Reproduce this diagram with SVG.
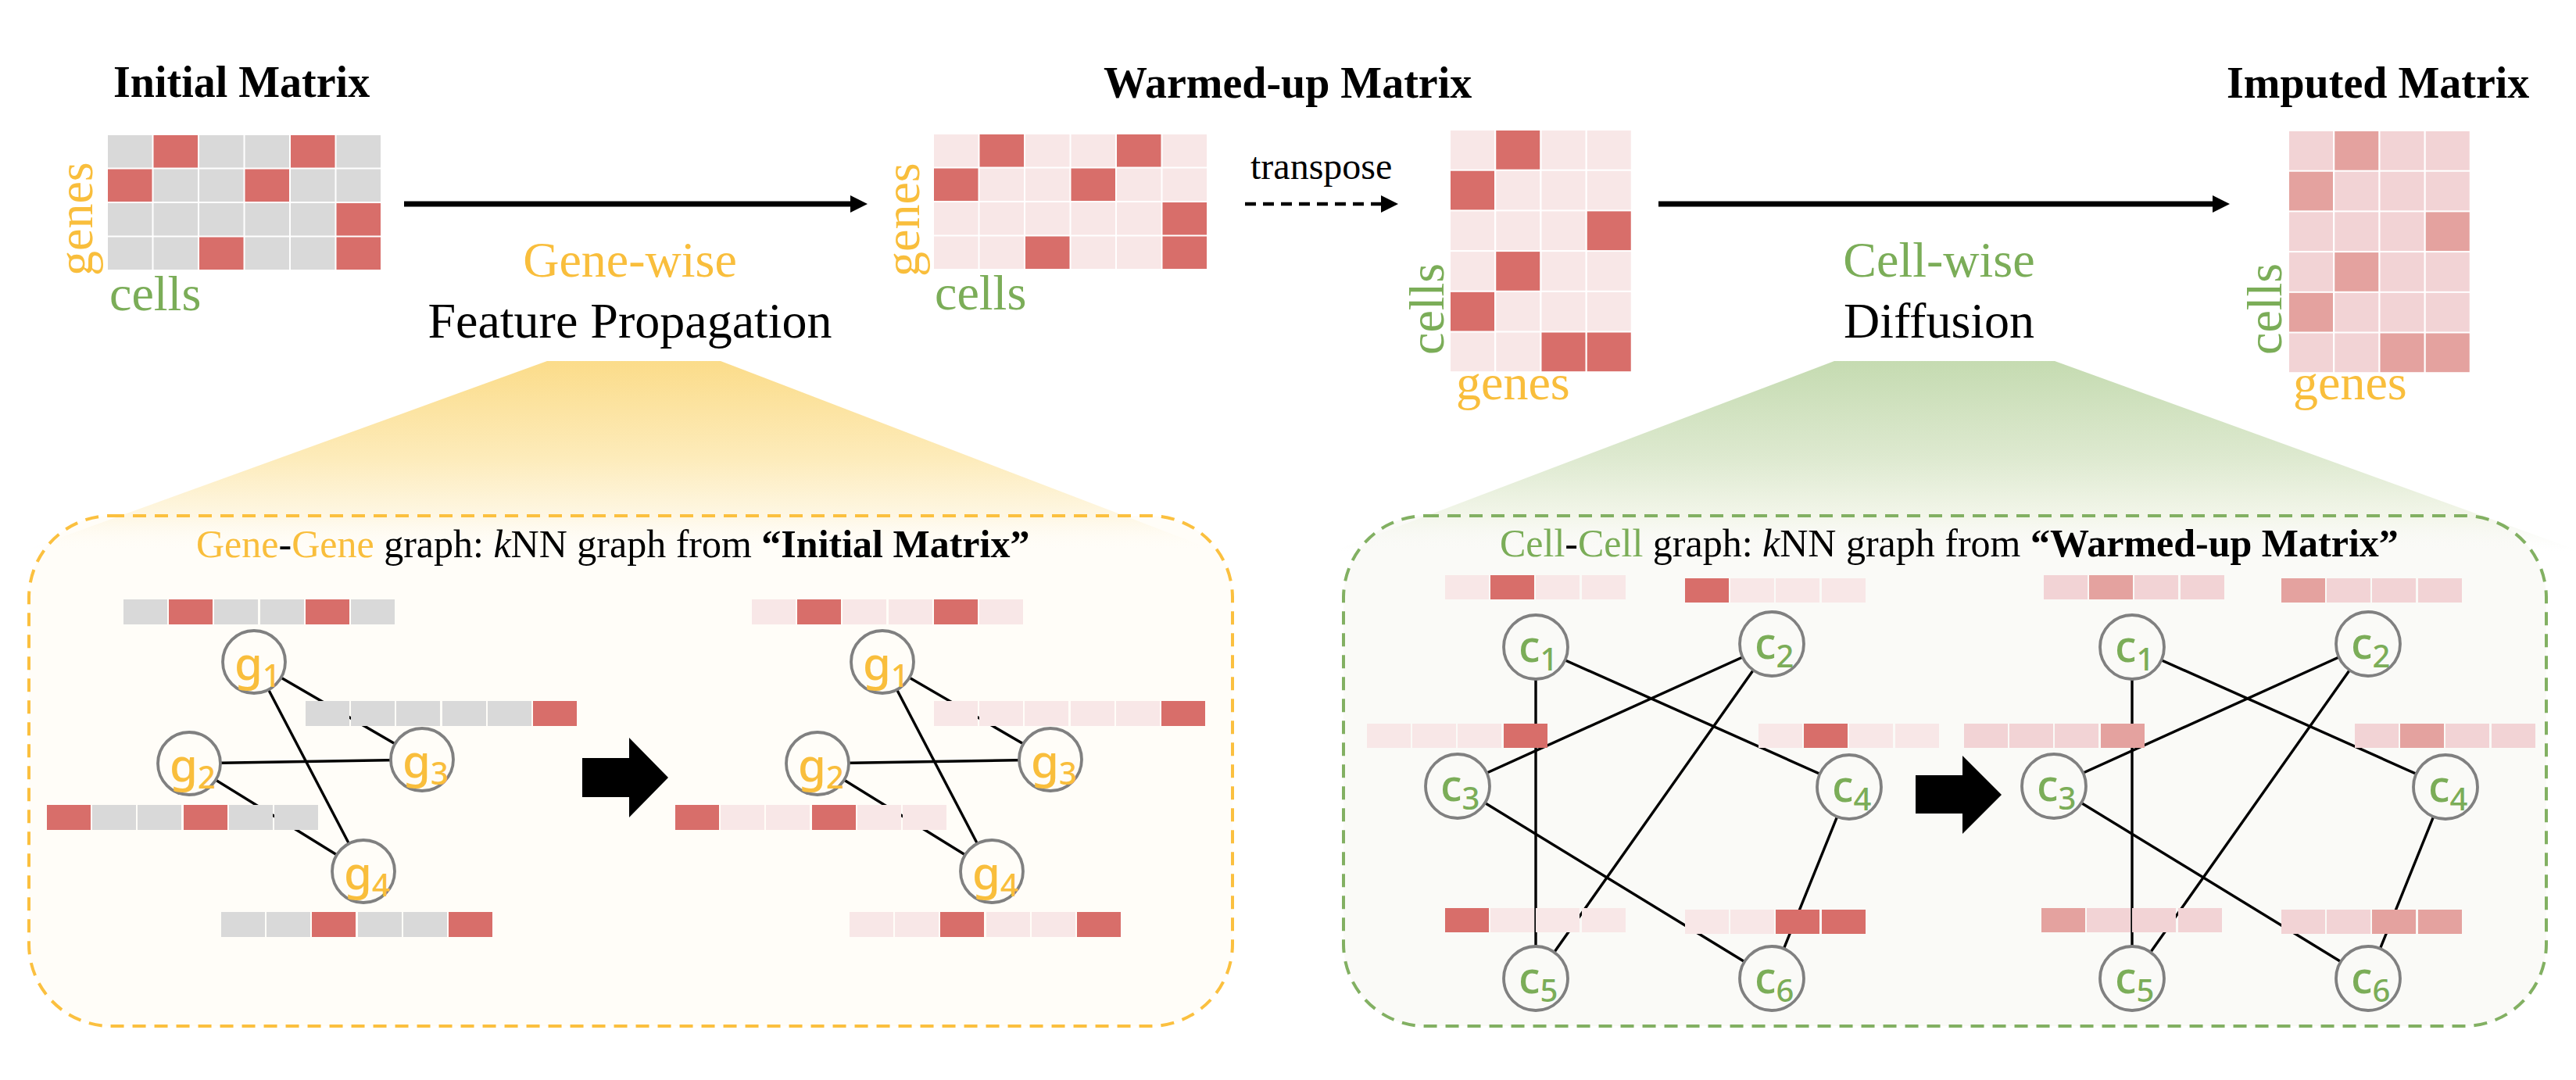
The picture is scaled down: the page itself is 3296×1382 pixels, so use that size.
<svg xmlns="http://www.w3.org/2000/svg" width="3296" height="1382" viewBox="0 0 3296 1382">
<style>
.serif{font-family:"Liberation Serif","Times New Roman",serif}
.ttl{font-family:"Liberation Serif","Times New Roman",serif;font-weight:bold;font-size:56px;fill:#000}
.big{font-family:"Liberation Serif","Times New Roman",serif;font-size:64px}
.ax{font-family:"Liberation Serif","Times New Roman",serif;font-size:64px}
.yl{fill:#F9BE3C}
.gn{fill:#7BAD58}
.gr{fill:#D9D9D9}
.rd{fill:#D86E6A}
.lt{fill:#F8E7E7}
.il{fill:#F2D3D5}
.id{fill:#E4A29F}
.edge{stroke:#000;stroke-width:3.4;fill:none}
.node{stroke:#808080;stroke-width:3.8}
.glab{font-family:"Noto Sans","Open Sans",sans-serif;font-weight:500;font-size:58px;fill:#F9BE3C}
.clab{font-family:"Noto Sans","Open Sans",sans-serif;font-weight:500;font-size:56px;fill:#7BAD58}
.sub{font-size:40px}
.btitle{font-family:"Liberation Serif","Times New Roman",serif;font-size:50px;fill:#000}
</style>
<defs>
<linearGradient id="ygrad" gradientUnits="userSpaceOnUse" x1="0" y1="462" x2="0" y2="705">
<stop offset="0" stop-color="#FBDC8A"/>
<stop offset="0.5" stop-color="#FDEBB9"/>
<stop offset="0.82" stop-color="#FEF7E4"/>
<stop offset="1" stop-color="#FFFDF8" stop-opacity="0"/>
</linearGradient>
<linearGradient id="ggrad" gradientUnits="userSpaceOnUse" x1="0" y1="462" x2="0" y2="705">
<stop offset="0" stop-color="#C5DBB1"/>
<stop offset="0.5" stop-color="#DDE9CF"/>
<stop offset="0.82" stop-color="#F3F6EA"/>
<stop offset="1" stop-color="#FAFAF7" stop-opacity="0"/>
</linearGradient>
<marker id="ah" markerWidth="22" markerHeight="22" viewBox="0 0 22 22" refX="0" refY="11" orient="auto" markerUnits="userSpaceOnUse">
<path d="M0,0 L22,11 L0,22 Z" fill="#000"/>
</marker>
</defs>

<!-- panel backgrounds -->
<g id="gene-panel-bg">
<rect x="37" y="660" width="1540" height="653" rx="105" ry="105" fill="#FFFDF8"/>
<polygon points="700,462 922,462 1556,705 30,705" fill="url(#ygrad)"/>
<rect x="37" y="660" width="1540" height="653" rx="105" ry="105" fill="none" stroke="#FBC03F" stroke-width="4" stroke-dasharray="17 11"/>
</g>
<g id="cell-panel-bg">
<rect x="1719" y="660" width="1539" height="653" rx="105" ry="105" fill="#FAFAF7"/>
<polygon points="2347,462 2629,462 3300,705 1707,705" fill="url(#ggrad)"/>
<rect x="1719" y="660" width="1539" height="653" rx="105" ry="105" fill="none" stroke="#82B062" stroke-width="4" stroke-dasharray="17 11"/>
</g>

<!-- top titles -->
<text class="ttl" x="145" y="124">Initial Matrix</text>
<text class="ttl" x="1412" y="125">Warmed-up Matrix</text>
<text class="ttl" x="2849" y="125">Imputed Matrix</text>

<!-- Initial matrix -->
<g id="initial-matrix" transform="translate(138,173)">
<rect class="gr" x="0" y="0" width="56.5" height="41.5"/><rect class="rd" x="58.5" y="0" width="56.5" height="41.5"/><rect class="gr" x="117" y="0" width="56.5" height="41.5"/><rect class="gr" x="175.5" y="0" width="56.5" height="41.5"/><rect class="rd" x="234" y="0" width="56.5" height="41.5"/><rect class="gr" x="292.5" y="0" width="56.5" height="41.5"/>
<rect class="rd" x="0" y="43.5" width="56.5" height="41.5"/><rect class="gr" x="58.5" y="43.5" width="56.5" height="41.5"/><rect class="gr" x="117" y="43.5" width="56.5" height="41.5"/><rect class="rd" x="175.5" y="43.5" width="56.5" height="41.5"/><rect class="gr" x="234" y="43.5" width="56.5" height="41.5"/><rect class="gr" x="292.5" y="43.5" width="56.5" height="41.5"/>
<rect class="gr" x="0" y="87" width="56.5" height="41.5"/><rect class="gr" x="58.5" y="87" width="56.5" height="41.5"/><rect class="gr" x="117" y="87" width="56.5" height="41.5"/><rect class="gr" x="175.5" y="87" width="56.5" height="41.5"/><rect class="gr" x="234" y="87" width="56.5" height="41.5"/><rect class="rd" x="292.5" y="87" width="56.5" height="41.5"/>
<rect class="gr" x="0" y="130.5" width="56.5" height="41.5"/><rect class="gr" x="58.5" y="130.5" width="56.5" height="41.5"/><rect class="rd" x="117" y="130.5" width="56.5" height="41.5"/><rect class="gr" x="175.5" y="130.5" width="56.5" height="41.5"/><rect class="gr" x="234" y="130.5" width="56.5" height="41.5"/><rect class="rd" x="292.5" y="130.5" width="56.5" height="41.5"/>
</g>
<text class="ax yl" transform="translate(118,353) rotate(-90)">genes</text>
<text class="ax gn" x="140" y="397">cells</text>

<!-- Warmed-up matrix -->
<g id="warmed-matrix" transform="translate(1195,172)">
<rect class="lt" x="0" y="0" width="56.5" height="41.5"/><rect class="rd" x="58.5" y="0" width="56.5" height="41.5"/><rect class="lt" x="117" y="0" width="56.5" height="41.5"/><rect class="lt" x="175.5" y="0" width="56.5" height="41.5"/><rect class="rd" x="234" y="0" width="56.5" height="41.5"/><rect class="lt" x="292.5" y="0" width="56.5" height="41.5"/>
<rect class="rd" x="0" y="43.5" width="56.5" height="41.5"/><rect class="lt" x="58.5" y="43.5" width="56.5" height="41.5"/><rect class="lt" x="117" y="43.5" width="56.5" height="41.5"/><rect class="rd" x="175.5" y="43.5" width="56.5" height="41.5"/><rect class="lt" x="234" y="43.5" width="56.5" height="41.5"/><rect class="lt" x="292.5" y="43.5" width="56.5" height="41.5"/>
<rect class="lt" x="0" y="87" width="56.5" height="41.5"/><rect class="lt" x="58.5" y="87" width="56.5" height="41.5"/><rect class="lt" x="117" y="87" width="56.5" height="41.5"/><rect class="lt" x="175.5" y="87" width="56.5" height="41.5"/><rect class="lt" x="234" y="87" width="56.5" height="41.5"/><rect class="rd" x="292.5" y="87" width="56.5" height="41.5"/>
<rect class="lt" x="0" y="130.5" width="56.5" height="41.5"/><rect class="lt" x="58.5" y="130.5" width="56.5" height="41.5"/><rect class="rd" x="117" y="130.5" width="56.5" height="41.5"/><rect class="lt" x="175.5" y="130.5" width="56.5" height="41.5"/><rect class="lt" x="234" y="130.5" width="56.5" height="41.5"/><rect class="rd" x="292.5" y="130.5" width="56.5" height="41.5"/>
</g>
<text class="ax yl" transform="translate(1176,354) rotate(-90)">genes</text>
<text class="ax gn" x="1196" y="396">cells</text>

<!-- Transposed warmed-up matrix -->
<g id="transposed-matrix" transform="translate(1856,167)">
<rect class="lt" x="0" y="0" width="56" height="49.7"/><rect class="rd" x="58.25" y="0" width="56" height="49.7"/><rect class="lt" x="116.5" y="0" width="56" height="49.7"/><rect class="lt" x="174.75" y="0" width="56" height="49.7"/>
<rect class="rd" x="0" y="51.7" width="56" height="49.7"/><rect class="lt" x="58.25" y="51.7" width="56" height="49.7"/><rect class="lt" x="116.5" y="51.7" width="56" height="49.7"/><rect class="lt" x="174.75" y="51.7" width="56" height="49.7"/>
<rect class="lt" x="0" y="103.4" width="56" height="49.7"/><rect class="lt" x="58.25" y="103.4" width="56" height="49.7"/><rect class="lt" x="116.5" y="103.4" width="56" height="49.7"/><rect class="rd" x="174.75" y="103.4" width="56" height="49.7"/>
<rect class="lt" x="0" y="155.1" width="56" height="49.7"/><rect class="rd" x="58.25" y="155.1" width="56" height="49.7"/><rect class="lt" x="116.5" y="155.1" width="56" height="49.7"/><rect class="lt" x="174.75" y="155.1" width="56" height="49.7"/>
<rect class="rd" x="0" y="206.8" width="56" height="49.7"/><rect class="lt" x="58.25" y="206.8" width="56" height="49.7"/><rect class="lt" x="116.5" y="206.8" width="56" height="49.7"/><rect class="lt" x="174.75" y="206.8" width="56" height="49.7"/>
<rect class="lt" x="0" y="258.5" width="56" height="49.7"/><rect class="lt" x="58.25" y="258.5" width="56" height="49.7"/><rect class="rd" x="116.5" y="258.5" width="56" height="49.7"/><rect class="rd" x="174.75" y="258.5" width="56" height="49.7"/>
</g>
<text class="ax gn" transform="translate(1847,454) rotate(-90)">cells</text>
<text class="ax yl" x="1863" y="511">genes</text>

<!-- Imputed matrix -->
<g id="imputed-matrix" transform="translate(2929,168)">
<rect class="il" x="0" y="0" width="56" height="49.7"/><rect class="id" x="58.25" y="0" width="56" height="49.7"/><rect class="il" x="116.5" y="0" width="56" height="49.7"/><rect class="il" x="174.75" y="0" width="56" height="49.7"/>
<rect class="id" x="0" y="51.7" width="56" height="49.7"/><rect class="il" x="58.25" y="51.7" width="56" height="49.7"/><rect class="il" x="116.5" y="51.7" width="56" height="49.7"/><rect class="il" x="174.75" y="51.7" width="56" height="49.7"/>
<rect class="il" x="0" y="103.4" width="56" height="49.7"/><rect class="il" x="58.25" y="103.4" width="56" height="49.7"/><rect class="il" x="116.5" y="103.4" width="56" height="49.7"/><rect class="id" x="174.75" y="103.4" width="56" height="49.7"/>
<rect class="il" x="0" y="155.1" width="56" height="49.7"/><rect class="id" x="58.25" y="155.1" width="56" height="49.7"/><rect class="il" x="116.5" y="155.1" width="56" height="49.7"/><rect class="il" x="174.75" y="155.1" width="56" height="49.7"/>
<rect class="id" x="0" y="206.8" width="56" height="49.7"/><rect class="il" x="58.25" y="206.8" width="56" height="49.7"/><rect class="il" x="116.5" y="206.8" width="56" height="49.7"/><rect class="il" x="174.75" y="206.8" width="56" height="49.7"/>
<rect class="il" x="0" y="258.5" width="56" height="49.7"/><rect class="il" x="58.25" y="258.5" width="56" height="49.7"/><rect class="id" x="116.5" y="258.5" width="56" height="49.7"/><rect class="id" x="174.75" y="258.5" width="56" height="49.7"/>
</g>
<text class="ax gn" transform="translate(2919,454) rotate(-90)">cells</text>
<text class="ax yl" x="2934" y="511">genes</text>

<!-- top-level arrows -->
<g id="main-arrows">
<line x1="517" y1="261" x2="1088" y2="261" stroke="#000" stroke-width="7" marker-end="url(#ah)"/>
<line x1="1593" y1="261" x2="1767" y2="261" stroke="#000" stroke-width="4.5" stroke-dasharray="14 9" marker-end="url(#ah)"/>
<line x1="2122" y1="261" x2="2831" y2="261" stroke="#000" stroke-width="7" marker-end="url(#ah)"/>
</g>
<text class="serif" x="1600" y="229" font-size="48">transpose</text>

<text class="big yl" x="806" y="354" text-anchor="middle">Gene-wise</text>
<text class="big" x="806" y="432" text-anchor="middle" fill="#000">Feature Propagation</text>
<text class="big gn" x="2481" y="354" text-anchor="middle">Cell-wise</text>
<text class="big" x="2481" y="432" text-anchor="middle" fill="#000">Diffusion</text>

<!-- panel titles -->
<text class="btitle" x="251" y="713"><tspan class="yl">Gene</tspan>-<tspan class="yl">Gene</tspan> graph: <tspan font-style="italic">k</tspan>NN graph from <tspan font-weight="bold">“Initial Matrix”</tspan></text>
<text class="btitle" x="1919" y="712"><tspan class="gn">Cell</tspan>-<tspan class="gn">Cell</tspan> graph: <tspan font-style="italic">k</tspan>NN graph from <tspan font-weight="bold">“Warmed-up Matrix”</tspan></text>

<!-- connectors -->
<g id="connectors">
<line class="edge" x1="325" y1="847" x2="540" y2="972"/>
<line class="edge" x1="325" y1="847" x2="465" y2="1115"/>
<line class="edge" x1="242" y1="977" x2="540" y2="972"/>
<line class="edge" x1="242" y1="977" x2="465" y2="1115"/>
<line class="edge" x1="1129" y1="847" x2="1344" y2="972"/>
<line class="edge" x1="1129" y1="847" x2="1269" y2="1115"/>
<line class="edge" x1="1046" y1="977" x2="1344" y2="972"/>
<line class="edge" x1="1046" y1="977" x2="1269" y2="1115"/>
<line class="edge" x1="1965" y1="828" x2="1965" y2="1252"/>
<line class="edge" x1="1965" y1="828" x2="2366" y2="1007"/>
<line class="edge" x1="2267" y1="824" x2="1865" y2="1006"/>
<line class="edge" x1="2267" y1="824" x2="1965" y2="1252"/>
<line class="edge" x1="1865" y1="1006" x2="2267" y2="1252"/>
<line class="edge" x1="2366" y1="1007" x2="2267" y2="1252"/>
<line class="edge" x1="2728" y1="828" x2="2728" y2="1252"/>
<line class="edge" x1="2728" y1="828" x2="3129" y2="1007"/>
<line class="edge" x1="3030" y1="824" x2="2628" y2="1006"/>
<line class="edge" x1="3030" y1="824" x2="2728" y2="1252"/>
<line class="edge" x1="2628" y1="1006" x2="3030" y2="1252"/>
<line class="edge" x1="3129" y1="1007" x2="3030" y2="1252"/>
</g>

<!-- gene vectors (left) -->
<g id="vec-g1-a" transform="translate(158,767)"><rect class="gr" x="0" width="56" height="32"/><rect class="rd" x="58" width="56" height="32"/><rect class="gr" x="116" width="56" height="32"/><rect class="gr" x="175" width="56" height="32"/><rect class="rd" x="233" width="56" height="32"/><rect class="gr" x="291" width="56" height="32"/></g>
<g id="vec-g3-a" transform="translate(391,897)"><rect class="gr" x="0" width="56" height="32"/><rect class="gr" x="58" width="56" height="32"/><rect class="gr" x="116" width="56" height="32"/><rect class="gr" x="175" width="56" height="32"/><rect class="gr" x="233" width="56" height="32"/><rect class="rd" x="291" width="56" height="32"/></g>
<g id="vec-g2-a" transform="translate(60,1030)"><rect class="rd" x="0" width="56" height="32"/><rect class="gr" x="58" width="56" height="32"/><rect class="gr" x="116" width="56" height="32"/><rect class="rd" x="175" width="56" height="32"/><rect class="gr" x="233" width="56" height="32"/><rect class="gr" x="291" width="56" height="32"/></g>
<g id="vec-g4-a" transform="translate(283,1167)"><rect class="gr" x="0" width="56" height="32"/><rect class="gr" x="58" width="56" height="32"/><rect class="rd" x="116" width="56" height="32"/><rect class="gr" x="175" width="56" height="32"/><rect class="gr" x="233" width="56" height="32"/><rect class="rd" x="291" width="56" height="32"/></g>
<!-- gene vectors (right) -->
<g id="vec-g1-b" transform="translate(962,767)"><rect class="lt" x="0" width="56" height="32"/><rect class="rd" x="58" width="56" height="32"/><rect class="lt" x="116" width="56" height="32"/><rect class="lt" x="175" width="56" height="32"/><rect class="rd" x="233" width="56" height="32"/><rect class="lt" x="291" width="56" height="32"/></g>
<g id="vec-g3-b" transform="translate(1195,897)"><rect class="lt" x="0" width="56" height="32"/><rect class="lt" x="58" width="56" height="32"/><rect class="lt" x="116" width="56" height="32"/><rect class="lt" x="175" width="56" height="32"/><rect class="lt" x="233" width="56" height="32"/><rect class="rd" x="291" width="56" height="32"/></g>
<g id="vec-g2-b" transform="translate(864,1030)"><rect class="rd" x="0" width="56" height="32"/><rect class="lt" x="58" width="56" height="32"/><rect class="lt" x="116" width="56" height="32"/><rect class="rd" x="175" width="56" height="32"/><rect class="lt" x="233" width="56" height="32"/><rect class="lt" x="291" width="56" height="32"/></g>
<g id="vec-g4-b" transform="translate(1087,1167)"><rect class="lt" x="0" width="56" height="32"/><rect class="lt" x="58" width="56" height="32"/><rect class="rd" x="116" width="56" height="32"/><rect class="lt" x="175" width="56" height="32"/><rect class="lt" x="233" width="56" height="32"/><rect class="rd" x="291" width="56" height="32"/></g>

<!-- cell vectors (left) -->
<g id="vec-c1-a" transform="translate(1849,736)"><rect class="lt" x="0" width="56" height="31"/><rect class="rd" x="58" width="56" height="31"/><rect class="lt" x="116" width="56" height="31"/><rect class="lt" x="175" width="56" height="31"/></g>
<g id="vec-c2-a" transform="translate(2156,740)"><rect class="rd" x="0" width="56" height="31"/><rect class="lt" x="58" width="56" height="31"/><rect class="lt" x="116" width="56" height="31"/><rect class="lt" x="175" width="56" height="31"/></g>
<g id="vec-c3-a" transform="translate(1749,926)"><rect class="lt" x="0" width="56" height="31"/><rect class="lt" x="58" width="56" height="31"/><rect class="lt" x="116" width="56" height="31"/><rect class="rd" x="175" width="56" height="31"/></g>
<g id="vec-c4-a" transform="translate(2250,926)"><rect class="lt" x="0" width="56" height="31"/><rect class="rd" x="58" width="56" height="31"/><rect class="lt" x="116" width="56" height="31"/><rect class="lt" x="175" width="56" height="31"/></g>
<g id="vec-c5-a" transform="translate(1849,1162)"><rect class="rd" x="0" width="56" height="31"/><rect class="lt" x="58" width="56" height="31"/><rect class="lt" x="116" width="56" height="31"/><rect class="lt" x="175" width="56" height="31"/></g>
<g id="vec-c6-a" transform="translate(2156,1164)"><rect class="lt" x="0" width="56" height="31"/><rect class="lt" x="58" width="56" height="31"/><rect class="rd" x="116" width="56" height="31"/><rect class="rd" x="175" width="56" height="31"/></g>
<!-- cell vectors (right) -->
<g id="vec-c1-b" transform="translate(2615,736)"><rect class="il" x="0" width="56" height="31"/><rect class="id" x="58" width="56" height="31"/><rect class="il" x="116" width="56" height="31"/><rect class="il" x="175" width="56" height="31"/></g>
<g id="vec-c2-b" transform="translate(2919,740)"><rect class="id" x="0" width="56" height="31"/><rect class="il" x="58" width="56" height="31"/><rect class="il" x="116" width="56" height="31"/><rect class="il" x="175" width="56" height="31"/></g>
<g id="vec-c3-b" transform="translate(2513,926)"><rect class="il" x="0" width="56" height="31"/><rect class="il" x="58" width="56" height="31"/><rect class="il" x="116" width="56" height="31"/><rect class="id" x="175" width="56" height="31"/></g>
<g id="vec-c4-b" transform="translate(3013,926)"><rect class="il" x="0" width="56" height="31"/><rect class="id" x="58" width="56" height="31"/><rect class="il" x="116" width="56" height="31"/><rect class="il" x="175" width="56" height="31"/></g>
<g id="vec-c5-b" transform="translate(2612,1162)"><rect class="id" x="0" width="56" height="31"/><rect class="il" x="58" width="56" height="31"/><rect class="il" x="116" width="56" height="31"/><rect class="il" x="175" width="56" height="31"/></g>
<g id="vec-c6-b" transform="translate(2919,1164)"><rect class="il" x="0" width="56" height="31"/><rect class="il" x="58" width="56" height="31"/><rect class="id" x="116" width="56" height="31"/><rect class="id" x="175" width="56" height="31"/></g>

<!-- block arrows -->
<polygon id="block-arrow-gene" points="745,970 805,970 805,944 855,995 805,1046 805,1020 745,1020" fill="#000"/>
<polygon id="block-arrow-cell" points="2451,992 2511,992 2511,967 2561,1017 2511,1067 2511,1041 2451,1041" fill="#000"/>

<!-- gene nodes -->
<g id="node-g1-a"><circle class="node" cx="325" cy="847" r="40" fill="#FFFDF8"/><text class="glab" x="300" y="870">g<tspan class="sub" dy="9">1</tspan></text></g>
<g id="node-g2-a"><circle class="node" cx="242" cy="977" r="40" fill="#FFFDF8"/><text class="glab" x="217" y="1000">g<tspan class="sub" dy="9">2</tspan></text></g>
<g id="node-g3-a"><circle class="node" cx="540" cy="972" r="40" fill="#FFFDF8"/><text class="glab" x="515" y="995">g<tspan class="sub" dy="9">3</tspan></text></g>
<g id="node-g4-a"><circle class="node" cx="465" cy="1115" r="40" fill="#FFFDF8"/><text class="glab" x="440" y="1138">g<tspan class="sub" dy="9">4</tspan></text></g>
<g id="node-g1-b"><circle class="node" cx="1129" cy="847" r="40" fill="#FFFDF8"/><text class="glab" x="1104" y="870">g<tspan class="sub" dy="9">1</tspan></text></g>
<g id="node-g2-b"><circle class="node" cx="1046" cy="977" r="40" fill="#FFFDF8"/><text class="glab" x="1021" y="1000">g<tspan class="sub" dy="9">2</tspan></text></g>
<g id="node-g3-b"><circle class="node" cx="1344" cy="972" r="40" fill="#FFFDF8"/><text class="glab" x="1319" y="995">g<tspan class="sub" dy="9">3</tspan></text></g>
<g id="node-g4-b"><circle class="node" cx="1269" cy="1115" r="40" fill="#FFFDF8"/><text class="glab" x="1244" y="1138">g<tspan class="sub" dy="9">4</tspan></text></g>

<!-- cell nodes -->
<g id="node-c1-a"><circle class="node" cx="1965" cy="828" r="41" fill="#FAFAF7"/><text class="clab" x="1943" y="847">c<tspan class="sub" dy="11">1</tspan></text></g>
<g id="node-c2-a"><circle class="node" cx="2267" cy="824" r="41" fill="#FAFAF7"/><text class="clab" x="2245" y="843">c<tspan class="sub" dy="11">2</tspan></text></g>
<g id="node-c3-a"><circle class="node" cx="1865" cy="1006" r="41" fill="#FAFAF7"/><text class="clab" x="1843" y="1025">c<tspan class="sub" dy="11">3</tspan></text></g>
<g id="node-c4-a"><circle class="node" cx="2366" cy="1007" r="41" fill="#FAFAF7"/><text class="clab" x="2344" y="1026">c<tspan class="sub" dy="11">4</tspan></text></g>
<g id="node-c5-a"><circle class="node" cx="1965" cy="1252" r="41" fill="#FAFAF7"/><text class="clab" x="1943" y="1271">c<tspan class="sub" dy="11">5</tspan></text></g>
<g id="node-c6-a"><circle class="node" cx="2267" cy="1252" r="41" fill="#FAFAF7"/><text class="clab" x="2245" y="1271">c<tspan class="sub" dy="11">6</tspan></text></g>
<g id="node-c1-b"><circle class="node" cx="2728" cy="828" r="41" fill="#FAFAF7"/><text class="clab" x="2706" y="847">c<tspan class="sub" dy="11">1</tspan></text></g>
<g id="node-c2-b"><circle class="node" cx="3030" cy="824" r="41" fill="#FAFAF7"/><text class="clab" x="3008" y="843">c<tspan class="sub" dy="11">2</tspan></text></g>
<g id="node-c3-b"><circle class="node" cx="2628" cy="1006" r="41" fill="#FAFAF7"/><text class="clab" x="2606" y="1025">c<tspan class="sub" dy="11">3</tspan></text></g>
<g id="node-c4-b"><circle class="node" cx="3129" cy="1007" r="41" fill="#FAFAF7"/><text class="clab" x="3107" y="1026">c<tspan class="sub" dy="11">4</tspan></text></g>
<g id="node-c5-b"><circle class="node" cx="2728" cy="1252" r="41" fill="#FAFAF7"/><text class="clab" x="2706" y="1271">c<tspan class="sub" dy="11">5</tspan></text></g>
<g id="node-c6-b"><circle class="node" cx="3030" cy="1252" r="41" fill="#FAFAF7"/><text class="clab" x="3008" y="1271">c<tspan class="sub" dy="11">6</tspan></text></g>
</svg>
